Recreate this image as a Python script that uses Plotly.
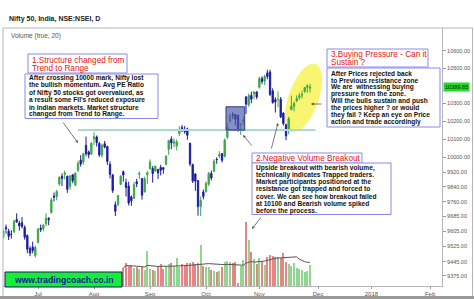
import numpy as np
import pandas as pd
import plotly.graph_objects as go

# ---------------- data ----------------
dates = ["2017-06-13", "2017-06-14", "2017-06-15", "2017-06-16", "2017-06-19", "2017-06-20", "2017-06-21",
         "2017-06-22", "2017-06-23", "2017-06-27", "2017-06-28", "2017-06-29", "2017-06-30",
         "2017-07-03", "2017-07-04", "2017-07-05", "2017-07-06", "2017-07-07", "2017-07-10", "2017-07-11",
         "2017-07-12", "2017-07-13", "2017-07-14", "2017-07-17", "2017-07-18", "2017-07-19", "2017-07-20",
         "2017-07-21", "2017-07-24", "2017-07-25", "2017-07-26", "2017-07-27", "2017-07-28", "2017-07-31",
         "2017-08-01", "2017-08-02", "2017-08-03", "2017-08-04", "2017-08-07", "2017-08-08", "2017-08-09",
         "2017-08-10", "2017-08-11", "2017-08-14", "2017-08-16", "2017-08-17", "2017-08-18", "2017-08-21",
         "2017-08-22", "2017-08-23", "2017-08-24", "2017-08-28", "2017-08-29", "2017-08-30", "2017-08-31",
         "2017-09-01", "2017-09-04", "2017-09-05", "2017-09-06", "2017-09-07", "2017-09-08", "2017-09-11",
         "2017-09-12", "2017-09-13", "2017-09-14", "2017-09-15", "2017-09-18", "2017-09-19", "2017-09-20",
         "2017-09-21", "2017-09-22", "2017-09-25", "2017-09-26", "2017-09-27", "2017-09-28", "2017-09-29",
         "2017-10-03", "2017-10-04", "2017-10-05", "2017-10-06", "2017-10-09", "2017-10-10", "2017-10-11",
         "2017-10-12", "2017-10-13", "2017-10-16", "2017-10-17", "2017-10-18", "2017-10-19", "2017-10-23",
         "2017-10-24", "2017-10-25", "2017-10-26", "2017-10-27", "2017-10-30", "2017-10-31",
         "2017-11-01", "2017-11-02", "2017-11-03", "2017-11-06", "2017-11-07", "2017-11-08", "2017-11-09",
         "2017-11-10", "2017-11-13", "2017-11-14", "2017-11-15", "2017-11-16", "2017-11-17", "2017-11-20",
         "2017-11-21", "2017-11-22", "2017-11-23", "2017-11-24", "2017-11-27", "2017-11-28"]

opens = [9574, 9625, 9605, 9590, 9602, 9667, 9648, 9650, 9625, 9583, 9515, 9522, 9478,
         9547, 9621, 9618, 9644, 9673, 9703, 9791, 9788, 9856, 9898, 9908, 9898, 9842, 9906, 9851,
         9930, 9985, 9975, 10066, 10030, 10018,
         10101, 10112, 10076, 10012, 10075, 10060, 9962, 9905, 9745, 9745, 9854, 9922, 9863, 9845,
         9787, 9779, 9868, 9907, 9886, 9813, 9905,
         9937, 9940, 9926, 9935, 9945, 9944, 9962, 10044, 10100, 10077, 10063, 10131, 10164, 10148,
         10157, 10078, 9960, 9910, 9874, 9736, 9813,
         9814, 9855, 9913, 9924, 9990, 10007, 10021, 10005, 10111, 10197, 10239, 10237, 10232, 10179,
         10197, 10335, 10291, 10344, 10353, 10364,
         10390, 10440, 10425, 10472, 10477, 10370, 10320, 10321, 10322, 10245, 10180, 10151, 10264,
         10283, 10314, 10333, 10347, 10367, 10390, 10385]

highs = [9616, 9640, 9618, 9610, 9665, 9699, 9660, 9680, 9636, 9588, 9527, 9550, 9530,
         9624, 9640, 9644, 9700, 9679, 9782, 9810, 9824, 9897, 9913, 9928, 9900, 9905, 9906, 9917,
         9982, 10012, 10025, 10114, 10038, 10084,
         10137, 10120, 10084, 10075, 10090, 10063, 9978, 9908, 9762, 9798, 9904, 9928, 9884, 9868,
         9794, 9866, 9883, 9925, 9887, 9895, 9925,
         9989, 9953, 9955, 9936, 9960, 9948, 10011, 10095, 10115, 10104, 10098, 10171, 10178, 10173,
         10164, 10078, 9966, 9913, 9874, 9789, 9826,
         9870, 9920, 9929, 9990, 10000, 10034, 10021, 10104, 10191, 10242, 10250, 10237, 10236, 10190,
         10226, 10340, 10355, 10366, 10368, 10367,
         10451, 10453, 10461, 10490, 10490, 10384, 10333, 10367, 10335, 10248, 10185, 10224, 10343,
         10310, 10344, 10358, 10370, 10391, 10407, 10408]

lows = [9565, 9592, 9559, 9566, 9595, 9650, 9608, 9620, 9561, 9490, 9475, 9490, 9468,
        9540, 9601, 9604, 9630, 9636, 9698, 9762, 9768, 9846, 9845, 9880, 9808, 9824, 9860, 9842,
        9920, 9950, 9960, 10006, 9995, 10015,
        10068, 10060, 10003, 9999, 10049, 9959, 9886, 9808, 9685, 9737, 9850, 9868, 9789, 9741,
        9739, 9778, 9839, 9882, 9772, 9811, 9856,
        9936, 9863, 9923, 9883, 9902, 9911, 9960, 10014, 10045, 10054, 10038, 10116, 10140, 10130,
        10097, 9952, 9861, 9819, 9687, 9685, 9773,
        9811, 9845, 9875, 9919, 9965, 9995, 9972, 10000, 10100, 10197, 10211, 10175, 10143, 10124,
        10180, 10240, 10280, 10300, 10322, 10323,
        10383, 10407, 10403, 10436, 10340, 10298, 10248, 10277, 10216, 10175, 10094, 10127, 10263,
        10255, 10306, 10320, 10327, 10359, 10360, 10360]

closes = [9606, 9618, 9578, 9588, 9657, 9653, 9633, 9630, 9574, 9511, 9491, 9504, 9521,
          9615, 9613, 9637, 9674, 9665, 9771, 9786, 9816, 9892, 9886, 9915, 9827, 9899, 9873, 9915,
          9966, 9964, 10020, 10020, 10014, 10077,
          10114, 10081, 10013, 10066, 10057, 9978, 9908, 9820, 9710, 9794, 9897, 9904, 9837, 9754,
          9766, 9852, 9857, 9912, 9796, 9884, 9917,
          9974, 9912, 9952, 9916, 9930, 9935, 10006, 10093, 10079, 10086, 10085, 10153, 10147, 10141,
          10121, 9964, 9872, 9871, 9735, 9768, 9788,
          9859, 9914, 9888, 9979, 9988, 10016, 9984, 10096, 10167, 10230, 10234, 10210, 10146, 10184,
          10207, 10295, 10343, 10323, 10363, 10335,
          10440, 10423, 10452, 10451, 10350, 10303, 10308, 10321, 10224, 10186, 10118, 10214, 10283,
          10298, 10326, 10342, 10348, 10389, 10399, 10389.85]

# volume (millions) visible from 17 Aug onwards
volume_start = "2017-08-17"
volumes = [180, 230, 200, 210, 180, 190, 170, 190, 160, 350,
           170, 160, 150, 200, 220, 170, 190, 220, 230, 200, 280, 190, 220, 210, 230, 230, 240, 220,
           230, 410, 200,
           190, 190, 160, 150, 140, 150, 190, 240, 250, 240, 230, 240, 30, 200, 260, 640, 460, 340,
           270, 220,
           280, 250, 210, 290, 310, 300, 290, 290, 280, 330, 240, 220, 200, 230, 180, 170, 160, 140,
           150, 210]
volume_ma_len = 20

resistance_level = 10150
resistance_dates = ["2017-07-24", "2017-11-30"]
zone_dates = ["2017-10-13", "2017-10-24"]
zone_prices = [10150, 10280]

holidays = ["2017-06-26", "2017-08-15", "2017-08-25", "2017-10-02", "2017-10-20",
            "2017-12-25", "2018-01-26"]
month_ticks = ["2017-07-03", "2017-08-01", "2017-09-01", "2017-10-03", "2017-11-01",
               "2017-12-01", "2018-01-01", "2018-02-01"]
month_labels = ["Jul", "Aug", "Sep", "Oct", "Nov", "Dec", "2018", "Feb"]
price_ticks = [10600, 10500, 10300, 10200, 10100, 10000, 9920, 9840, 9760, 9685, 9605,
               9525, 9445, 9375]

# ---------------- trading-day scale ----------------
cal = pd.bdate_range("2017-06-13", "2018-02-28", freq="C", holidays=holidays)
pos = {d: i for i, d in enumerate(cal)}
def idx(d):
    return pos[pd.Timestamp(d)]

xs = [idx(d) for d in dates]
v0 = dates.index(volume_start)
vx = xs[v0:v0 + len(volumes)]
vup = [closes[i] >= opens[i] for i in range(v0, v0 + len(volumes))]
vcol = ["#8fd68f" if u else "#e58585" for u in vup]
vma = pd.Series(volumes).rolling(volume_ma_len, min_periods=1).mean()

# ---------------- layout geometry (pixels) ----------------
W, H = 474, 299
L, R, T, B = 3, 442, 28, 286
def px(x):
    return (x - L) / (R - L)
def py(y):
    return (B - y) / (B - T)

FONT = "Liberation Sans, Arial, sans-serif"

fig = go.Figure()

fig.add_trace(go.Scatter(
    x=[idx(d) for d in resistance_dates], y=[resistance_level] * 2, mode="lines",
    line=dict(color="#a9d9d0", width=2), hoverinfo="skip", showlegend=False))

fig.add_trace(go.Bar(
    x=vx, y=volumes, yaxis="y2", marker=dict(color=vcol, line=dict(width=0)),
    width=0.78, showlegend=False, hoverinfo="skip"))
fig.add_trace(go.Scatter(
    x=vx, y=vma, yaxis="y2", mode="lines", line=dict(color="#555555", width=1),
    showlegend=False, hoverinfo="skip"))

fig.add_trace(go.Candlestick(
    x=xs, open=opens, high=highs, low=lows, close=closes,
    increasing=dict(line=dict(color="#3ba845", width=1), fillcolor="#3ba845"),
    decreasing=dict(line=dict(color="#1c1ca3", width=1), fillcolor="#1c1ca3"),
    whiskerwidth=0, showlegend=False, hoverinfo="skip"))

zx0, zx1 = idx(zone_dates[0]) - 0.5, idx(zone_dates[1]) + 0.5
fig.add_trace(go.Scatter(
    x=[zx0, zx1, zx1, zx0, zx0],
    y=[zone_prices[0], zone_prices[0], zone_prices[1], zone_prices[1], zone_prices[0]],
    mode="lines", fill="toself", fillcolor="rgba(78,92,168,0.68)",
    line=dict(color="#2b3585", width=1), showlegend=False, hoverinfo="skip"))

# price axis range (log) from pixel geometry
p_ref, y_ref, k = 10500.0, 68.0, 1832.0
p_top = p_ref * np.exp((y_ref - T) / k)
p_bot = p_ref * np.exp((y_ref - B) / k)

shapes = []
annotations = []

# yellow ellipse
cx, cy, a, b, th = 303.5, 98.0, 36.0, 15.0, np.deg2rad(19.4)
u = (np.sin(th), -np.cos(th))
v = (np.cos(th), np.sin(th))
pts = []
for t in np.linspace(0, 2 * np.pi, 60):
    X = cx + a * np.cos(t) * u[0] + b * np.sin(t) * v[0]
    Y = cy + a * np.cos(t) * u[1] + b * np.sin(t) * v[1]
    pts.append((px(X), py(Y)))
path = "M " + " L ".join(f"{p[0]:.5f},{p[1]:.5f}" for p in pts) + " Z"
shapes.append(dict(type="path", path=path, xref="paper", yref="paper",
                   fillcolor="rgba(248,244,96,0.9)", line=dict(width=0), layer="below"))

def rect(x0, y0, x1, y1, fill="white", line="#8a8ae6", lw=1):
    shapes.append(dict(type="rect", xref="paper", yref="paper",
                       x0=px(x0), x1=px(x1), y0=py(y0), y1=py(y1),
                       fillcolor=fill, line=dict(color=line, width=lw), layer="above"))

def text(s, x, y, size, color, anchor="left", bold=False):
    annotations.append(dict(text=f"<b>{s}</b>" if bold else s, xref="paper", yref="paper",
                            x=px(x), y=py(y), xanchor=anchor, yanchor="middle",
                            showarrow=False, font=dict(family=FONT, size=size, color=color)))

def block(lines, x, y0, dy, size, color, bold):
    for i, s in enumerate(lines):
        text(s, x, y0 + i * dy, size, color, bold=bold)

def arrow(hx, hy, tx, ty):
    annotations.append(dict(text="", xref="paper", yref="paper", x=px(hx), y=py(hy),
                            ax=tx - hx, ay=ty - hy, showarrow=True, arrowhead=2,
                            arrowsize=0.7, arrowwidth=0.8, arrowcolor="#555555"))

# frame
shapes.append(dict(type="line", xref="paper", yref="paper", x0=px(3), x1=px(473),
                   y0=py(28), y1=py(28), line=dict(color="#b5b5b5", width=1)))
shapes.append(dict(type="line", xref="paper", yref="paper", x0=px(3), x1=px(3),
                   y0=py(28), y1=py(297), line=dict(color="#b5b5b5", width=1)))
shapes.append(dict(type="line", xref="paper", yref="paper", x0=px(472.5), x1=px(472.5),
                   y0=py(28), y1=py(297), line=dict(color="#b5b5b5", width=1)))
shapes.append(dict(type="rect", xref="paper", yref="paper", x0=px(0), x1=px(474),
                   y0=py(296), y1=py(299.5), fillcolor="#999999", line=dict(width=0)))

# header texts
text("Nifty 50, India, NSE:NSEI, D", 7, 19, 7, "#222222", bold=True)
text("Volume (true, 20)", 9, 35.5, 6.5, "#555555")

BODY = 6.6

# box 1
rect(28, 54, 127, 73)
block(["1.Structure changed from", "Trend to Range"], 30, 60.3, 7.8, 8.2, "#e81414", False)
rect(25, 74, 158, 118.5)
block(["After crossing 10000 mark, Nifty lost",
       "the bullish momentum. Avg PE Ratio",
       "of Nifty 50 stocks got overvalued, as",
       "a result some FII's reduced exposure",
       "in Indian markets. Market structure",
       "changed from Trend to Range."], 27, 78.2, 7.25, BODY, "#111111", True)

# box 3
rect(327, 49, 428, 67)
block(["3.Buying Pressure - Can it", "Sustain ?"], 329, 55, 7.8, 8.2, "#e81414", False)
rect(327, 68, 440, 127)
block(["After Prices rejected back",
       "to Previous resistance zone",
       "We are  witnessing buying",
       "pressure from the zone.",
       "Will the bulls sustain and push",
       "the prices higher ? or would",
       "they fail ? Keep an eye on Price",
       "action and trade accordingly"], 329, 73.5, 6.9, BODY, "#111111", True)

# box 2
rect(252, 153, 362, 163)
block(["2.Negative Volume Breakout"], 254, 158, 7.8, 8.2, "#e81414", False)
rect(252, 163, 391, 214.5)
block(["Upside breakout with bearish volume,",
       "technically indicates Trapped traders.",
       "Market participants positioned at the",
       "resistance got trapped and forced to",
       "cover. We can see how breakout failed",
       "at 10100 and Bearish volume spiked",
       "before the process."], 254, 167.6, 7.25, BODY, "#111111", True)

# arrows
arrow(78, 143, 62, 121)
arrow(243, 135, 253, 147)
arrow(278, 123, 271, 150)
arrow(252, 229, 262, 216)
arrow(311, 104, 323, 104)

# watermark
rect(5, 272, 122, 287, fill="#14ee3a", line="#1a1a5a", lw=1)
text("www.tradingcoach.co.in", 63.5, 279.8, 8.6, "#14149a", anchor="center", bold=True)

# last price label
annotations.append(dict(text=f"{closes[-1]:.2f}", xref="paper", yref="y",
                        x=1.0, y=np.log10(closes[-1]), xanchor="left", yanchor="middle",
                        xshift=1, showarrow=False, bgcolor="#22dd22", borderpad=1,
                        font=dict(family=FONT, size=5.6, color="#111111")))

fig.update_layout(
    width=W, height=H, autosize=False,
    margin=dict(l=L, r=W - R, t=T, b=H - B, pad=0),
    paper_bgcolor="white", plot_bgcolor="white",
    showlegend=False, bargap=0,
    xaxis=dict(range=[-0.125, (R - L) / 2.667 - 0.125], tickvals=[idx(d) for d in month_ticks],
               ticktext=month_labels, ticks="outside", ticklen=2, tickcolor="#999999",
               showline=True, linecolor="#b5b5b5", linewidth=1, showgrid=False, zeroline=False,
               tickfont=dict(family=FONT, size=6, color="#555555"),
               rangeslider=dict(visible=False), fixedrange=True),
    yaxis=dict(type="log", side="right", range=[np.log10(p_bot), np.log10(p_top)],
               tickvals=price_ticks, ticktext=[f"{p:.2f}" for p in price_ticks],
               ticks="outside", ticklen=3, tickcolor="#999999", showline=True,
               linecolor="#b5b5b5", linewidth=1, showgrid=False, zeroline=False,
               tickfont=dict(family=FONT, size=5.5, color="#555555")),
    yaxis2=dict(overlaying="y", range=[0, 2580], visible=False, showgrid=False),
    shapes=shapes, annotations=annotations,
)

fig.write_html("out.html")
